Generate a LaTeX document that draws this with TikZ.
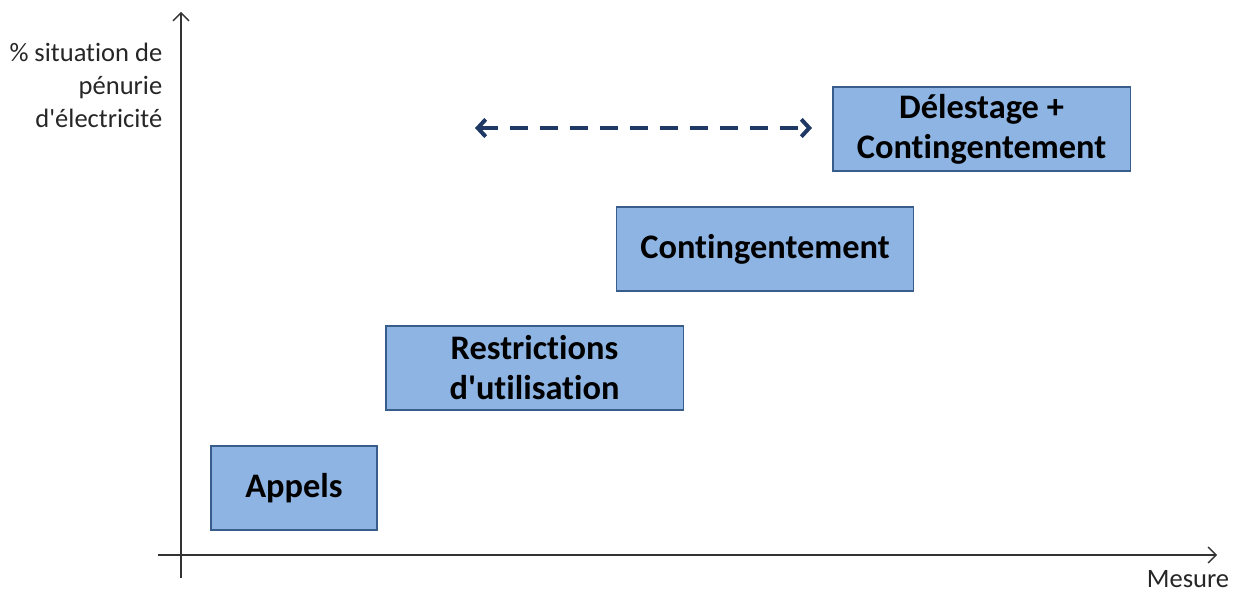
\documentclass[tikz,border=0pt]{standalone}
\usepackage{fontspec}
\setmainfont{Carlito}[Ligatures=NoCommon]
\usetikzlibrary{arrows.meta}
\definecolor{boxfill}{RGB}{141,180,226}
\definecolor{boxline}{RGB}{56,93,138}
\definecolor{navy}{RGB}{31,56,100}
\begin{document}
\begin{tikzpicture}[x=0.75pt,y=-0.75pt,
    mesure/.style={draw=boxline, fill=boxfill, line width=1pt, minimum width=223pt,
      minimum height=63pt, align=center, inner sep=0pt,
      font=\fontsize{25.8}{30}\selectfont\bfseries},
    axe/.style={-{Straight Barb[length=6pt,width=12pt]}, line width=1pt, black!80},
    axelabel/.style={font=\fontsize{19.9}{24.75}\selectfont, text=black!85}]

    % frame of the picture
    \useasboundingbox (0,0) rectangle (1243,595);

    % define coordinates for the axes
    \coordinate (ybot) at (181,578);
    \coordinate (ytop) at (181,12);
    \coordinate (xleft) at (158,555);
    \coordinate (xright) at (1217,555);
    \coordinate (dl) at (475,128);
    \coordinate (dr) at (812,128);

    % draw the axes
    \draw[axe] (ybot) -- (ytop);
    \draw[axe] (xleft) -- (xright);
    \node[axelabel, anchor=east, align=right] (ylab) at (167,85)
      {\% situation de\\pénurie\\d\textquotesingle électricité};
    \node[axelabel, inner sep=0pt, anchor=base] (xlab) at (1188,587) {Mesure};

    % draw the steps
    \node[mesure, minimum width=124.5pt] (appels) at (294,488) {Appels};
    \node[mesure] (restr) at (534.5,368) {Restrictions\\d\textquotesingle utilisation};
    \node[mesure] (conting) at (765,249) {Contingentement};
    \node[mesure] (delest) at (981.5,129) {Délestage +\\Contingentement};

    % draw the range
    \draw[{Straight Barb[length=6pt,width=13pt]}-{Straight Barb[length=6pt,width=13pt]},
      navy, line width=3pt, dash pattern=on 13.5pt off 9pt] (dl) -- (dr);
\end{tikzpicture}
\end{document}
